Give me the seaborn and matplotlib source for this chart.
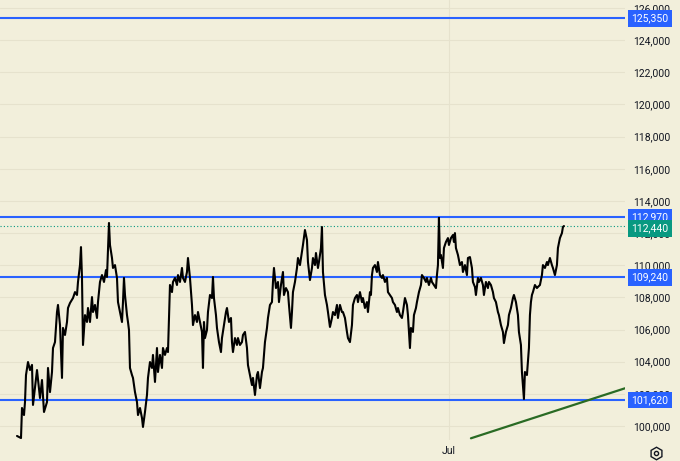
import numpy as np
import pandas as pd
import matplotlib
matplotlib.use('Agg')
from matplotlib import pyplot as plt
from matplotlib.lines import Line2D
from matplotlib.ticker import FuncFormatter
import seaborn as sns

sns.set_theme(style='white', rc={'axes.facecolor': '#F2EFDB',
                                 'figure.facecolor': '#F2EFDB'})
plt.rcParams['font.family'] = ['Roboto', 'DejaVu Sans']

# bar index (one bar per step) and close price
bars = [0, 4, 5, 7, 8, 9, 11, 13, 15, 16, 20, 23, 25, 27, 30, 31, 33, 35, 36, 38,
        40, 41, 43, 45, 46, 48, 50, 51, 53, 56, 58, 60, 61, 63, 64, 65, 66, 68, 70, 71,
        73, 75, 76, 78, 80, 81, 83, 85, 87, 89, 90, 92, 93, 95, 96, 98, 100, 101, 103, 105,
        106, 107, 108, 110, 111, 112, 113, 115, 116, 118, 120, 121, 123, 125, 126, 128, 130, 131, 133, 135,
        136, 138, 140, 141, 143, 145, 146, 148, 150, 151, 152, 153, 155, 156, 158, 160, 161, 163, 165, 166,
        168, 170, 171, 173, 175, 176, 178, 180, 181, 183, 185, 186, 187, 188, 190, 191, 193, 195, 196, 197,
        199, 200, 202, 204, 205, 207, 209, 210, 212, 214, 215, 216, 218, 220, 221, 223, 225, 226, 228, 230,
        231, 233, 235, 236, 238, 240, 241, 243, 245, 246, 248, 250, 251, 253, 255, 256, 257, 259, 261, 262,
        264, 266, 267, 269, 271, 272, 274, 275, 276, 278, 280, 281, 283, 285, 286, 288, 290, 291, 293, 295,
        296, 298, 299, 301, 302, 304, 305, 306, 308, 310, 311, 313, 315, 316, 318, 320, 321, 323, 325, 326,
        328, 330, 331, 333, 335, 336, 338, 340, 341, 343, 345, 346, 348, 350, 351, 353, 354, 355, 356, 358,
        360, 361, 363, 365, 366, 368, 370, 371, 373, 375, 376, 378, 380, 381, 383, 385, 386, 388, 390, 391,
        393, 394, 396, 397, 399, 400, 402, 404, 405, 407, 409, 410, 412, 414, 415, 417, 419, 420, 421, 422,
        423, 424, 426, 427, 429, 431, 432, 434, 436, 437, 438, 439, 441, 443, 445, 446, 448, 450, 451, 453,
        455, 456, 458, 459, 461, 462, 464, 466, 467, 469, 471, 472, 474, 476, 477, 479, 481, 482, 484, 486,
        487, 489, 491, 492, 494, 496, 497, 499, 501, 502, 504, 505, 506, 507, 508, 510, 511, 512, 513, 514,
        515, 516, 518, 520, 521, 523, 525, 526, 528, 530, 531, 533, 535, 536, 538, 540, 541, 543, 545, 546,
        547]
prices = [99380, 99250, 101120, 100680, 101490, 103170, 103980, 103480, 103800, 101310,
          103480, 101740, 102860, 100870, 101490, 103610, 102110, 103360, 104850, 105220,
          107090, 107530, 106280, 102990, 106100, 105660, 106470, 107340, 107650, 107960,
          108330, 108150, 108960, 110010, 111130, 109210, 105040, 106900, 106470, 107340,
          106470, 108020, 107090, 107530, 106720, 107710, 108960, 109390, 108960, 109700,
          109270, 112630, 111260, 110450, 109830, 110010, 109210, 107710, 107090, 106470,
          107710, 109210, 108150, 106900, 106470, 105970, 103610, 103170, 102990, 102110,
          101490, 100680, 101120, 100500, 99940, 100870, 101930, 102990, 103980, 103610,
          104420, 102740, 104850, 103360, 104420, 103610, 104850, 104420, 104850, 104600,
          106720, 108770, 108330, 108960, 109210, 108770, 109390, 108960, 109830, 109210,
          108960, 109580, 110450, 109210, 107530, 106280, 106900, 106470, 107090, 106470,
          105850, 103610, 106470, 105470, 105970, 107090, 108150, 107960, 109270, 107960,
          106900, 106100, 105220, 104600, 105470, 106280, 107090, 107340, 106470, 106720,
          105220, 104600, 105470, 105040, 105470, 105040, 105220, 105660, 105850, 104850,
          103790, 103170, 102550, 102990, 101930, 103170, 103360, 102360, 103360, 103610,
          105220, 106100, 106720, 107530, 107710, 108960, 109830, 108580, 108960, 107710,
          108770, 109580, 108150, 108580, 108330, 107530, 106100, 107090, 108330, 108960,
          109830, 110450, 110010, 110820, 111260, 112190, 111570, 110200, 109080, 109830,
          110450, 110010, 110760, 109830, 110200, 111070, 112380, 109580, 108150, 107530,
          107090, 106160, 106720, 107090, 106900, 107530, 106720, 107530, 107090, 107090,
          106720, 105850, 105470, 105220, 106280, 107530, 107960, 108150, 107710, 108330,
          107710, 107960, 107340, 107710, 107090, 108330, 108150, 109390, 109830, 110010,
          109580, 110200, 109390, 109210, 109390, 108960, 109210, 108330, 108150, 107960,
          107710, 107530, 107090, 107340, 106900, 106720, 107090, 107960, 107530, 106900,
          104850, 106100, 105850, 106900, 107340, 107710, 108330, 108770, 109390, 109210,
          108960, 109210, 108770, 109210, 108960, 108770, 108580, 109390, 110010, 112950,
          110450, 110640, 109830, 111070, 111450, 111690, 111260, 111690, 111880, 111450,
          112000, 111070, 110640, 110010, 110200, 109580, 110010, 109390, 110450, 110510,
          109830, 108960, 108650, 108150, 109210, 108960, 109210, 108770, 108150, 108960,
          108580, 108960, 108770, 108330, 107960, 107710, 107090, 106900, 106280, 105850,
          105160, 105850, 106280, 106900, 107340, 107960, 108150, 107710, 106900, 105850,
          105040, 103360, 102550, 101680, 103360, 103170, 103980, 104850, 106900, 107710,
          108150, 108330, 108770, 108580, 108650, 108770, 109390, 110010, 109830, 110200,
          110010, 110450, 110010, 109830, 109390, 110010, 111070, 111690, 112000, 112380,
          112440]

levels = [125350, 112970, 109240, 101620]
last_price = 112440
trend_bars = [454, 608]
trend_prices = [99235, 102345]
y_ticks = list(range(100000, 126001, 2000))
jul_bar = 432

df = pd.DataFrame({'bar': bars, 'price': prices})

fig = plt.figure(figsize=(6.8, 4.61), dpi=100)
ax = fig.add_axes([0, 0.0456, 0.919, 0.9544])

ax.set_xlim(-17, 608)
ax.set_ylim(99130, 126500)

for lv in levels:
    ax.axhline(lv, color='#2962FF', lw=1.5, zorder=3)
ax.axhline(last_price, color='#089981', lw=0.8, ls=(0, (1, 2)), zorder=3)

sns.lineplot(data=df, x='bar', y='price', ax=ax, color='black', lw=1.5,
             estimator=None, zorder=4)
sns.lineplot(x=trend_bars, y=trend_prices, ax=ax, color='#2A6B24', lw=1.6,
             estimator=None, zorder=4)

ax.yaxis.tick_right()
ax.set_yticks(y_ticks)
ax.yaxis.set_major_formatter(FuncFormatter(lambda v, p: f'{v:,.0f}'))
ax.set_xticks([jul_bar])
ax.set_xticklabels(['Jul'])
ax.tick_params(axis='both', length=0, labelsize=7.5, colors='#131722')
ax.tick_params(axis='y', pad=5.8)
ax.tick_params(axis='x', pad=4)
ax.set_xlabel('')
ax.set_ylabel('')
ax.grid(True, color='#E6E2CD', lw=0.8)
ax.set_axisbelow(True)
for s in ax.spines.values():
    s.set_visible(False)

tr = ax.get_yaxis_transform()
for lv in levels:
    ax.annotate(f'{lv:,}', xy=(1, lv), xycoords=tr, xytext=(18, 0),
                textcoords='offset points', ha='center', va='center',
                fontsize=7.5, color='white', zorder=10, annotation_clip=False,
                bbox=dict(boxstyle='square,pad=0.3', fc='#2962FF', ec='none'))
ax.annotate(f'{last_price:,}', xy=(1, last_price), xycoords=tr, xytext=(18, -1.8),
            textcoords='offset points', ha='center', va='center',
            fontsize=7.5, color='white', zorder=11, annotation_clip=False,
            bbox=dict(boxstyle='square,pad=0.3', fc='#089981', ec='none'))

# settings icon in the bottom right corner
fig.add_artist(Line2D([656 / 680], [1 - 453 / 461], marker='h', ms=9,
                      mfc='none', mec='#131722', mew=1.0, ls='none'))
fig.add_artist(Line2D([656 / 680], [1 - 453 / 461], marker='o', ms=3,
                      mfc='none', mec='#131722', mew=1.0, ls='none'))

plt.savefig('out.png', dpi=100)
